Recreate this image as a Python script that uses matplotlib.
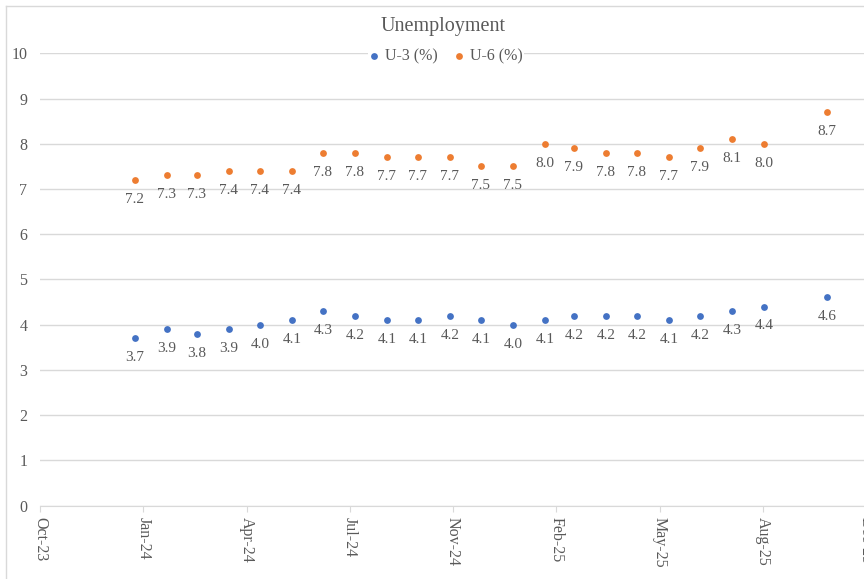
import matplotlib.pyplot as plt
import matplotlib.dates as mdates
import pandas as pd
from matplotlib.lines import Line2D

# monthly data, Jan 2024 - Sep 2025, then Nov 2025 (Oct 2025 missing)
months = list(pd.date_range("2024-01-01", "2025-09-01", freq="MS")) + [pd.Timestamp("2025-11-01")]
u3 = [3.7, 3.9, 3.8, 3.9, 4.0, 4.1, 4.3, 4.2, 4.1, 4.1, 4.2, 4.1,
      4.0, 4.1, 4.2, 4.2, 4.2, 4.1, 4.2, 4.3, 4.4, 4.6]
u6 = [7.2, 7.3, 7.3, 7.4, 7.4, 7.4, 7.8, 7.8, 7.7, 7.7, 7.7, 7.5,
      7.5, 8.0, 7.9, 7.8, 7.8, 7.7, 7.9, 8.1, 8.0, 8.7]

# excel style axis: start 1-Oct-2023, major unit 100 days
x_start = pd.Timestamp("2023-10-01")
x_ticks = [x_start + pd.Timedelta(days=100 * i) for i in range(9)]

txt_color = "#595959"
grid_color = "#D9D9D9"
plt.rcParams["font.family"] = "Liberation Serif"

fig = plt.figure(figsize=(8.64, 5.79), dpi=100)
W, H = 864, 579
ax = fig.add_axes([40 / W, 1 - 505.5 / H, 826 / W, 452.2 / H])

ax.scatter(months, u3, s=24, color="#4472C4", label="U-3 (%)", zorder=3, linewidths=0)
ax.scatter(months, u6, s=24, color="#ED7D31", label="U-6 (%)", zorder=3, linewidths=0)

for d, v in zip(months, u3):
    ax.annotate(f"{v:.1f}", (d, v), xytext=(0, -14), textcoords="offset points",
                ha="center", va="center", fontsize=11, color=txt_color)
for d, v in zip(months, u6):
    ax.annotate(f"{v:.1f}", (d, v), xytext=(0, -14), textcoords="offset points",
                ha="center", va="center", fontsize=11, color=txt_color)

ax.set_ylim(0, 10)
ax.set_yticks(range(0, 11))
ax.set_xlim(x_ticks[0], x_ticks[-1])
ax.set_xticks(x_ticks)
ax.xaxis.set_major_formatter(mdates.DateFormatter("%b-%y"))
ax.grid(axis="y", color=grid_color, linewidth=1)
ax.set_axisbelow(True)

for s in ["top", "right", "left"]:
    ax.spines[s].set_visible(False)
ax.spines["bottom"].set_color(grid_color)
ax.tick_params(axis="y", length=0, pad=9, labelsize=11.5, labelcolor=txt_color)
ax.tick_params(axis="x", length=4, color=grid_color, pad=4, labelsize=11.5,
               labelcolor=txt_color, labelrotation=270)

fig.text(443 / W, 1 - 26 / H, "Unemployment", fontsize=14.5,
         color=txt_color, ha="center", va="center")

leg = ax.legend(loc="center", bbox_to_anchor=(446 / W, 1 - 56 / H), bbox_transform=fig.transFigure,
                ncol=2, frameon=True, facecolor="white", edgecolor="none", framealpha=1,
                fontsize=11.5, handlelength=0.6, handletextpad=0.4, columnspacing=1.0,
                markerscale=1.0, borderpad=0.1)
for t in leg.get_texts():
    t.set_color(txt_color)

# chart border (cropped at right/bottom)
fig.add_artist(Line2D([5.5 / W, 5.5 / W], [0, 1 - 5.5 / H], color=grid_color, linewidth=1))
fig.add_artist(Line2D([5.5 / W, 1], [1 - 5.5 / H, 1 - 5.5 / H], color=grid_color, linewidth=1))

fig.savefig("out.png", dpi=100)
